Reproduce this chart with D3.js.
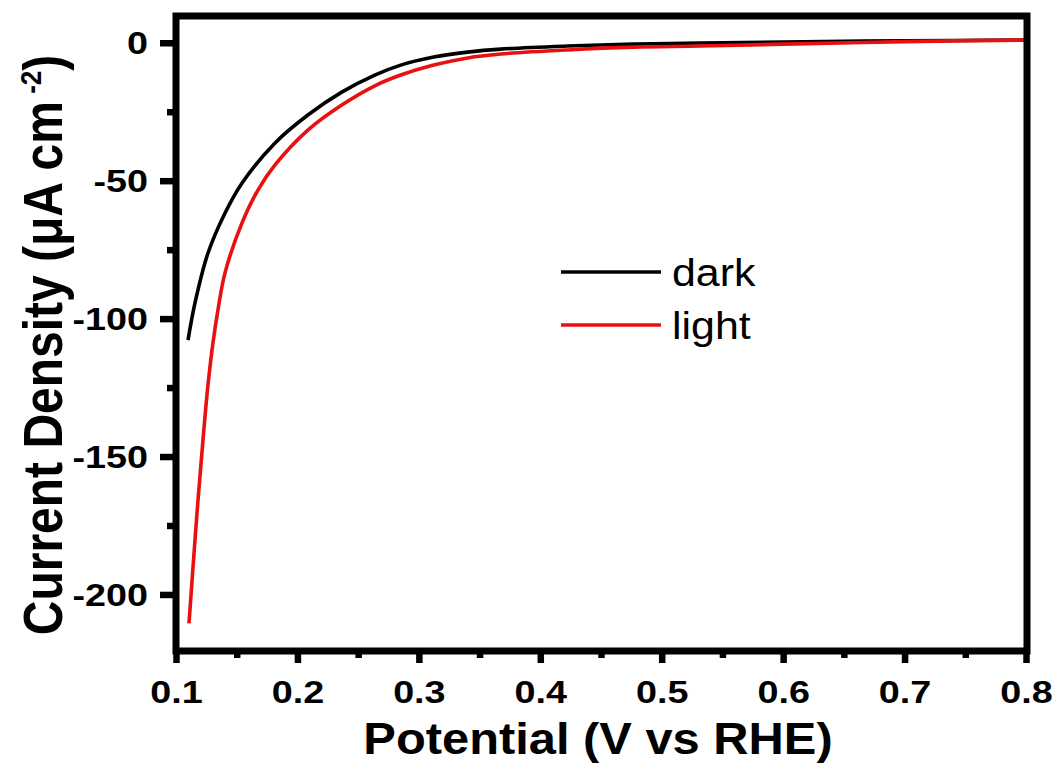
<!DOCTYPE html>
<html>
<head>
<meta charset="utf-8">
<script src="https://cdn.jsdelivr.net/npm/d3@7"></script>
<style>
  html, body { margin: 0; padding: 0; background: #fff; }
  svg { display: block; }
</style>
</head>
<body>
<svg id="chart" width="1062" height="766"></svg>
<script>
// ---- data ----
const darkPotential = [0.1099, 0.1156, 0.1263, 0.1403, 0.1543, 0.1814, 0.2086, 0.2365, 0.2637, 0.2851, 0.3122, 0.3402, 0.3673, 0.4224, 0.4767, 0.5319, 0.60, 0.70, 0.80];
const darkCurrent   = [-107.8, -94.4, -76.3, -61.8, -50.9, -36.4, -26.2, -17.9, -11.7, -8.1, -5.2, -3.4, -2.3, -1.2, -0.5, -0.1, 0.3, 0.7, 1.0];

const lightPotential = [0.1107, 0.1140, 0.1181, 0.1222, 0.1263, 0.1304, 0.1345, 0.1403, 0.1543, 0.1675, 0.1814, 0.2086, 0.2365, 0.2637, 0.2851, 0.3122, 0.3402, 0.3673, 0.4224, 0.4767, 0.5319, 0.60, 0.70, 0.80];
const lightCurrent   = [-210.5, -190.2, -165.9, -144.1, -124.2, -108.9, -97.0, -83.5, -65.4, -53.4, -44.4, -31.7, -22.6, -15.6, -11.7, -8.1, -5.5, -4.1, -2.6, -1.6, -1.2, -0.5, 0.4, 1.0];

const seriesNames = ["dark", "light"];
const seriesColors = ["#000000", "#e81010"];

const xMajorTicks = [0.1, 0.2, 0.3, 0.4, 0.5, 0.6, 0.7, 0.8];
const xMajorLabels = ["0.1", "0.2", "0.3", "0.4", "0.5", "0.6", "0.7", "0.8"];
const xMinorTicks = [0.15, 0.25, 0.35, 0.45, 0.55, 0.65, 0.75];
const yMajorTicks = [0, -50, -100, -150, -200];
const yMajorLabels = ["0", "-50", "-100", "-150", "-200"];
const yMinorTicks = [-25, -75, -125, -175];

const xTitle = "Potential (V vs RHE)";
const yTitleMain = "Current Density (μA cm";
const yTitleSup = " -2";
const yTitleEnd = ")";

// ---- layout ----
const L = 176, R = 1026, T = 16, B = 651;
const svg = d3.select("#chart");

const x = d3.scaleLinear().domain([0.1, 0.8]).range([L, R]);
const y = d3.scaleLinear().domain([-220.5, 9.7]).range([B, T]);

const FONT = "'Liberation Sans', Arial, Helvetica, sans-serif";

// curves
const line = d3.line().x(d => x(d[0])).y(d => y(d[1])).curve(d3.curveCatmullRom.alpha(0.5));
const darkData = darkPotential.map((p, i) => [p, darkCurrent[i]]);
const lightData = lightPotential.map((p, i) => [p, lightCurrent[i]]);

svg.append("path").datum(darkData).attr("d", line)
  .attr("fill", "none").attr("stroke", seriesColors[0]).attr("stroke-width", 3.6);
svg.append("path").datum(lightData).attr("d", line)
  .attr("fill", "none").attr("stroke", seriesColors[1]).attr("stroke-width", 3.6);

// frame
svg.append("rect").attr("x", L).attr("y", T).attr("width", R - L + 1).attr("height", B - T)
  .attr("fill", "none").attr("stroke", "#000").style("stroke-width", "7px");

// axes
const yAxisMajor = d3.axisLeft(y).tickValues(yMajorTicks).tickSize(16).tickFormat((d, i) => yMajorLabels[i]);
const yAxisMinor = d3.axisLeft(y).tickValues(yMinorTicks).tickSize(9).tickFormat("");
const xAxisMajor = d3.axisBottom(x).tickValues(xMajorTicks).tickSize(12).tickFormat((d, i) => xMajorLabels[i]);
const xAxisMinor = d3.axisBottom(x).tickValues(xMinorTicks).tickSize(7).tickFormat("");

function styleAxis(g) {
  g.select(".domain").remove();
  g.selectAll(".tick line").attr("stroke", "#000").style("stroke-width", "6.5px");
}

const gy = svg.append("g").attr("transform", `translate(${L},0)`).call(yAxisMajor).call(styleAxis);
svg.append("g").attr("transform", `translate(${L},0)`).call(yAxisMinor).call(styleAxis);
const gx = svg.append("g").attr("transform", `translate(0,${B})`).call(xAxisMajor).call(styleAxis);
svg.append("g").attr("transform", `translate(0,${B})`).call(xAxisMinor).call(styleAxis);

gy.selectAll(".tick text")
  .attr("x", null).attr("dy", null)
  .attr("transform", "translate(-28,11) scale(1.18,1)")
  .attr("text-anchor", "end")
  .style("font-family", FONT).style("font-weight", "bold").style("font-size", "32px").attr("fill", "#000");

gx.selectAll(".tick text")
  .attr("y", null).attr("dy", null)
  .attr("transform", "translate(0,52) scale(1.18,1)")
  .attr("text-anchor", "middle")
  .style("font-family", FONT).style("font-weight", "bold").style("font-size", "32px").attr("fill", "#000");

// x title
svg.append("text")
  .attr("transform", `translate(${(L + R) / 2 - 3},754) scale(1.11,1)`)
  .attr("text-anchor", "middle")
  .style("font-family", FONT).style("font-weight", "bold").style("font-size", "44px")
  .text(xTitle);

// y title
const yt = svg.append("text")
  .attr("transform", "translate(62,345) rotate(-90) scale(1,1.17)")
  .attr("text-anchor", "middle")
  .style("font-family", FONT).style("font-weight", "bold").style("font-size", "48px");
yt.append("tspan").text(yTitleMain);
yt.append("tspan").attr("dy", -18).style("font-size", "26px").text(yTitleSup);
yt.append("tspan").attr("dy", 18).text(yTitleEnd);

// legend
const legendY = [272, 325];
seriesNames.forEach((name, i) => {
  svg.append("line").attr("x1", 561).attr("x2", 661).attr("y1", legendY[i]).attr("y2", legendY[i])
    .attr("stroke", seriesColors[i]).attr("stroke-width", 3.6);
  svg.append("text")
    .attr("transform", `translate(672,${legendY[i] + 14}) scale(1.1,1)`)
    .style("font-family", FONT).style("font-size", "39px").attr("fill", "#000")
    .text(name);
});
</script>
</body>
</html>
